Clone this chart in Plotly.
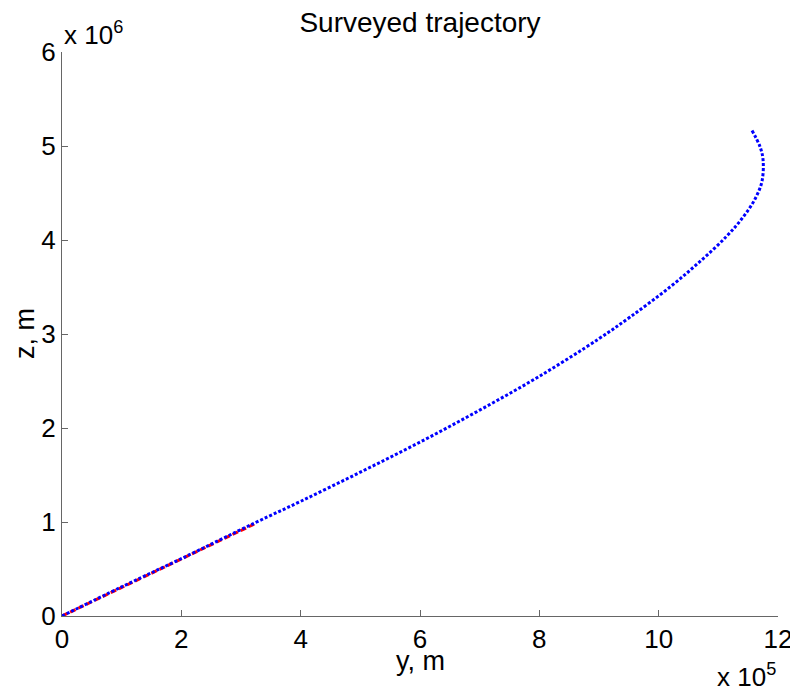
import plotly.graph_objects as go

# Surveyed trajectory (blue dotted), values in metres
traj_y = [0, 1.0e5, 2.0e5, 3.23e5, 4.0e5, 5.0e5, 6.0e5, 7.0e5, 8.0e5, 9.0e5, 9.52e5,
          10.19e5, 10.69e5, 11.14e5, 11.41e5, 11.61e5, 11.73e5, 11.75e5, 11.70e5, 11.56e5]
traj_z = [0, 0.31e6, 0.61e6, 0.99e6, 1.22e6, 1.53e6, 1.85e6, 2.19e6, 2.55e6, 2.95e6, 3.18e6,
          3.50e6, 3.77e6, 4.04e6, 4.24e6, 4.43e6, 4.62e6, 4.85e6, 4.99e6, 5.17e6]

# Red dashed segment
seg_y = [0, 3.23e5]
seg_z = [0, 0.98e6]

x_tickvals = [0, 2e5, 4e5, 6e5, 8e5, 10e5, 12e5]
x_ticktext = ["0", "2", "4", "6", "8", "10", "12"]
y_tickvals = [0, 1e6, 2e6, 3e6, 4e6, 5e6, 6e6]
y_ticktext = ["0", "1", "2", "3", "4", "5", "6"]

FONT = "Liberation Sans, Arial, sans-serif"

W, H = 790, 686  # page body has an 8px margin

fig = go.Figure()
fig.add_trace(go.Scatter(x=seg_y, y=seg_z, mode="lines",
                         line=dict(color="#ff0000", width=3, dash="6px,3px"),
                         showlegend=False, hoverinfo="skip"))
fig.add_trace(go.Scatter(x=traj_y, y=traj_z, mode="lines",
                         line=dict(color="#0000ff", width=3, dash="3px,2px", shape="spline", smoothing=1.0),
                         showlegend=False))

axis_common = dict(showgrid=False, zeroline=False, showline=True, linecolor="#666666",
                   linewidth=1, ticks="inside", ticklen=6, tickcolor="#666666",
                   tickfont=dict(family=FONT, size=26, color="black"), mirror=False,
                   automargin=False)

fig.update_layout(
    width=W, height=H,
    margin=dict(l=54, r=20, t=44, b=78),
    paper_bgcolor="white", plot_bgcolor="white",
    font=dict(family=FONT, color="black"),
    title=dict(text="Surveyed trajectory", x=0.5, xref="paper", xanchor="center",
               y=1 - 14 / H, yref="container", yanchor="middle",
               font=dict(family=FONT, size=28, color="black")),
    xaxis=dict(range=[0, 12e5], tickmode="array", tickvals=x_tickvals, ticktext=x_ticktext,
               **axis_common),
    yaxis=dict(range=[0, 6e6], tickmode="array", tickvals=y_tickvals, ticktext=y_ticktext,
               **axis_common),
    annotations=[
        dict(text="y, m", xref="paper", yref="paper", x=0.5, y=-(661 - 616) / 564,
             xanchor="center", yanchor="middle", showarrow=False,
             font=dict(family=FONT, size=27, color="black")),
        dict(text="z, m", xref="paper", yref="paper", x=-(62 - 25) / 716, y=0.5,
             xanchor="center", yanchor="middle", textangle=-90, showarrow=False,
             font=dict(family=FONT, size=27, color="black")),
        dict(text="x 10<sup>6</sup>", xref="paper", yref="paper", x=0, y=1.0,
             xanchor="left", yanchor="bottom", showarrow=False,
             font=dict(family=FONT, size=26, color="black")),
        dict(text="x 10<sup>5</sup>", xref="paper", yref="paper", x=1.0, y=-(657 - 616) / 564,
             xanchor="right", yanchor="top", showarrow=False,
             font=dict(family=FONT, size=26, color="black")),
    ],
)

fig.write_html("out.html")
